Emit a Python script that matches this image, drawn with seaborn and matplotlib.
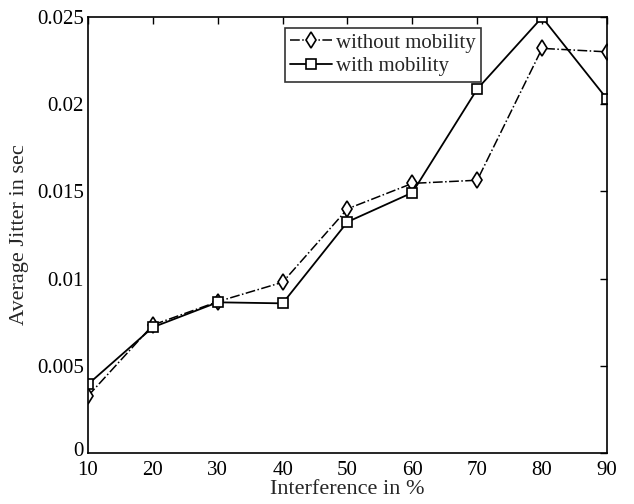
import matplotlib
matplotlib.use("Agg")
import matplotlib.pyplot as plt
import matplotlib.transforms as mtransforms
import seaborn as sns
import pandas as pd

interference = [10, 20, 30, 40, 50, 60, 70, 80, 90]
without_mobility = [0.00327, 0.00734, 0.00868, 0.00979, 0.0140, 0.01546, 0.01564, 0.0232, 0.0230]
with_mobility = [0.00394, 0.00721, 0.00864, 0.00858, 0.01325, 0.01493, 0.02087, 0.02498, 0.0203]
yticks = [0, 0.005, 0.01, 0.015, 0.02, 0.025]
ytick_labels = ["0", "0.005", "0.01", "0.015", "0.02", "0.025"]

sns.set_style("white")
plt.rcParams["font.family"] = ["Liberation Serif", "DejaVu Serif"]

fig = plt.figure(figsize=(6.34, 5.04), dpi=100)
ax = fig.add_axes([0.1388, 0.1012, 0.8186, 0.8651])

df1 = pd.DataFrame({"x": interference, "y": without_mobility})
df2 = pd.DataFrame({"x": interference, "y": with_mobility})

sns.lineplot(data=df1, x="x", y="y", ax=ax, color="black", linestyle="-.",
             marker="d", markersize=8, markerfacecolor="white",
             markeredgecolor="black", markeredgewidth=1.2, linewidth=1.1,
             label="without mobility")
sns.lineplot(data=df2, x="x", y="y", ax=ax, color="black", linestyle="-",
             marker="s", markersize=7, markerfacecolor="white",
             markeredgecolor="black", markeredgewidth=1.2, linewidth=1.3,
             label="with mobility")

ax.set_xlim(10, 90)
ax.set_ylim(0, 0.025)
ax.set_xticks(interference)
ax.set_yticks(yticks)
ax.set_yticklabels(ytick_labels)
ax.tick_params(direction="in", top=True, right=True, length=5, width=1,
               labelsize=15, colors="black")
ax.tick_params(axis="x", pad=6)
ax.tick_params(axis="y", pad=3)
for s in ax.spines.values():
    s.set_color("black")
    s.set_linewidth(1.2)

# nudge the "0" label up a little so it does not collide with "10"
zero_lbl = ax.get_yticklabels()[0]
zero_lbl.set_transform(zero_lbl.get_transform() +
                       mtransforms.ScaledTranslation(0, 3 / 72, fig.dpi_scale_trans))

ax.set_xlabel("Interference in %", fontsize=16, labelpad=0)
ax.set_ylabel("Average Jitter in sec", fontsize=16, labelpad=6)

leg = ax.legend(loc="upper left", bbox_to_anchor=(0.38, 0.975), fontsize=15,
                frameon=True, fancybox=False, edgecolor="black",
                borderpad=0.25, labelspacing=0.2, handlelength=2.0,
                handletextpad=0.2, borderaxespad=0)
leg.get_frame().set_linewidth(1.2)

fig.savefig("out.png", dpi=100)
